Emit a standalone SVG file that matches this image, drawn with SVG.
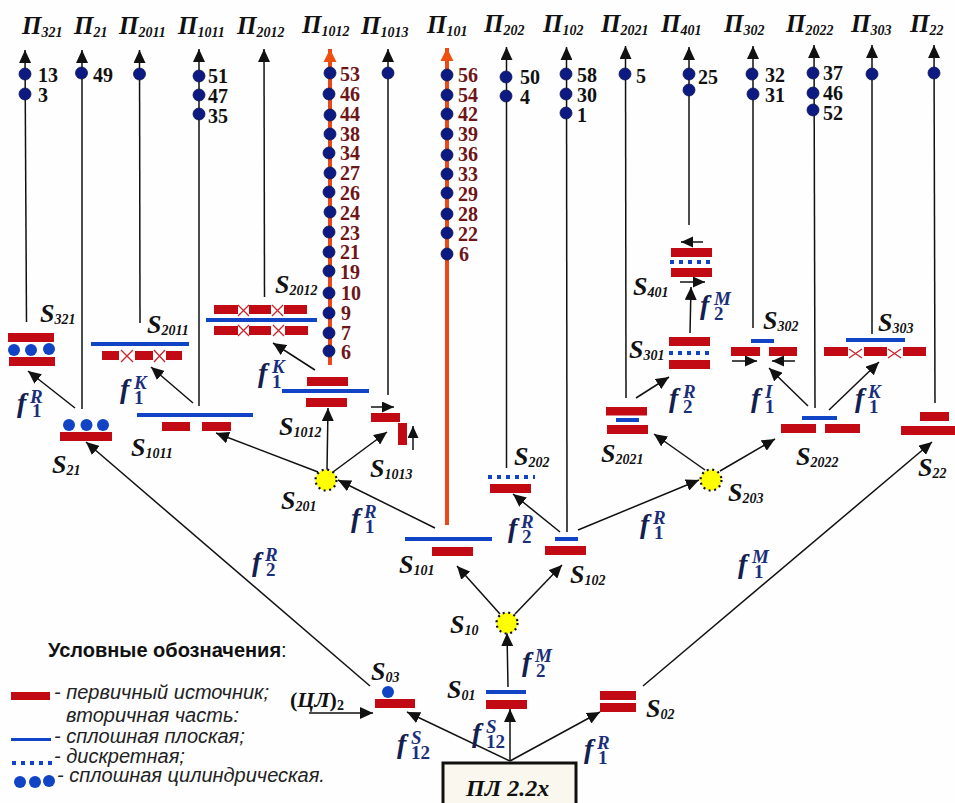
<svg xmlns="http://www.w3.org/2000/svg" width="955" height="803" viewBox="0 0 955 803">
<style>
text{font-family:"Liberation Serif","Times New Roman",serif}
.p{font-size:25px;font-weight:bold;font-style:italic;fill:#111}
.p tspan,.s tspan{font-size:14px}
.s{font-size:26px;font-weight:bold;font-style:italic;fill:#111}
.n{font-size:20px;font-weight:bold;fill:#111}
.m{font-size:20px;font-weight:bold;fill:#6e1518}
.f{font-size:28px;font-weight:bold;font-style:italic;fill:#13204f}
.f .a{font-size:19px;fill:#1a2f7c}
.f .b{font-size:19px;font-style:normal;fill:#1a2f7c}
.r{fill:#c20a14}
.b1{fill:#1144c4}
.c{fill:#1144c4}
.ds{stroke:#1144c4;stroke-width:4;stroke-dasharray:4 5;fill:none}
.x{stroke:#c8242c;stroke-width:1.3;fill:none}
.d{fill:#0c1a82;stroke:#10184e;stroke-width:.8}
.y{fill:#ffff00;stroke:#111;stroke-width:2.2;stroke-dasharray:2 3.6}
.l{stroke:#111;stroke-width:1.5;fill:none}
.ar{stroke:#111;stroke-width:1.5;fill:none;marker-end:url(#ah)}
.at{stroke:#111;stroke-width:1.5;fill:none;marker-end:url(#ah)}
.or{stroke:#e8481a;stroke-width:4;fill:none;marker-end:url(#oh)}
.lg{font-family:"Liberation Sans",Arial,sans-serif;font-size:20px;font-style:italic;fill:#222}
.lt{font-family:"Liberation Sans",Arial,sans-serif;font-size:20px;font-weight:bold;fill:#111}
</style>
<defs>
<marker id="ah" markerUnits="userSpaceOnUse" markerWidth="14" markerHeight="12" refX="13" refY="6" orient="auto"><path d="M0 0L13 6L0 12Z" fill="#111"/></marker>
<marker id="oh" markerUnits="userSpaceOnUse" markerWidth="14" markerHeight="14" refX="13" refY="7" orient="auto"><path d="M0 0.5L13 7L0 13.5Z" fill="#f0500f"/></marker>
<marker id="sh" markerUnits="userSpaceOnUse" markerWidth="13" markerHeight="12" refX="12" refY="5.5" orient="auto"><path d="M0 0L12 5.5L0 11Z" fill="#111"/></marker>
</defs>
<rect width="955" height="803" fill="#fefefe"/>

<g id="connectors">
<path class="at" d="M26.5 322L25 50"/>
<path class="at" d="M82 409L82 50"/>
<path class="at" d="M140 323L139.500 50"/>
<path class="at" d="M199 406L199 49"/>
<path class="at" d="M264.500 297L264 49"/>
<path class="or" d="M330 365L330 49"/>
<path class="at" d="M388 395L388 49"/>
<path class="or" d="M447 525L447 48"/>
<path class="at" d="M506.500 468L506.500 47"/>
<path class="at" d="M567 532L566.500 47"/>
<path class="at" d="M626 398L625.500 46"/>
<path class="at" d="M689 225L689 47"/>
<path class="at" d="M753 328L753 46"/>
<path class="at" d="M815 408L814 45"/>
<path class="at" d="M872 334L872 45"/>
<path class="at" d="M935 403L934 45"/>
<path class="ar" d="M510 761L407 712"/>
<path class="ar" d="M510 761L510 709"/>
<path class="ar" d="M510 761L600 712"/>
<path class="ar" d="M370 686L86 442"/>
<path class="ar" d="M309 713L373 713"/>
<path class="ar" d="M508 687L507 633"/>
<path class="ar" d="M500 614L457 566"/>
<path class="ar" d="M515 614L562 565"/>
<path class="ar" d="M435 528L338 480"/>
<path class="ar" d="M560 532L513 494"/>
<path class="ar" d="M578 530L699 480"/>
<path class="ar" d="M643 686L932 442"/>
<path class="ar" d="M705 470L654 434"/>
<path class="ar" d="M720 471L775 439"/>
<path class="ar" d="M636 398L669 377"/>
<path class="ar" d="M690 333L691 287"/>
<path class="ar" d="M808 406L769 368"/>
<path class="ar" d="M829 410L879 362"/>
<path class="ar" d="M318 472L216 433"/>
<path class="ar" d="M327 470L328 408"/>
<path class="ar" d="M333 472L387 432"/>
<path class="ar" d="M315 370L273 343"/>
<path class="ar" d="M193 403L151 367"/>
<path class="ar" d="M75 408L28 371"/>
</g>

<g id="outputs">
<g id="P321"><text class="p" x="22" y="34">П<tspan dy="3">321</tspan></text><circle class="d" cx="25" cy="74" r="6"/><circle class="d" cx="25" cy="94" r="6"/><text class="n" x="38" y="82">13</text><text class="n" x="38" y="102">3</text></g>
<g id="P21"><text class="p" x="74" y="34">П<tspan dy="3">21</tspan></text><circle class="d" cx="81.500" cy="73" r="6"/><text class="n" x="93" y="82">49</text></g>
<g id="P2011"><text class="p" x="119" y="34">П<tspan dy="3">2011</tspan></text><circle class="d" cx="139.500" cy="74" r="6"/></g>
<g id="P1011"><text class="p" x="178" y="34">П<tspan dy="3">1011</tspan></text><circle class="d" cx="199" cy="76" r="6"/><circle class="d" cx="199" cy="95" r="6"/><circle class="d" cx="199" cy="114" r="6"/><text class="n" x="208" y="83">51</text><text class="n" x="208" y="103">47</text><text class="n" x="208" y="123">35</text></g>
<g id="P2012"><text class="p" x="237" y="34">П<tspan dy="3">2012</tspan></text></g>
<g id="P1012"><text class="p" x="302" y="33">П<tspan dy="3">1012</tspan></text>
<circle class="d" cx="330" cy="73" r="6"/><circle class="d" cx="329" cy="94" r="6"/><circle class="d" cx="330" cy="115" r="6"/><circle class="d" cx="330" cy="134" r="6"/><circle class="d" cx="329" cy="153" r="6"/><circle class="d" cx="330" cy="173" r="6"/><circle class="d" cx="329" cy="192" r="6"/><circle class="d" cx="330" cy="212" r="6"/><circle class="d" cx="329" cy="232" r="6"/><circle class="d" cx="329" cy="252" r="6"/><circle class="d" cx="329" cy="271" r="6"/><circle class="d" cx="329" cy="293" r="6"/><circle class="d" cx="329" cy="313" r="6"/><circle class="d" cx="329" cy="333" r="6"/><circle class="d" cx="329" cy="351" r="6"/>
<text class="m" x="340" y="81">53</text><text class="m" x="340" y="101">46</text><text class="m" x="340" y="121">44</text><text class="m" x="340" y="141">38</text><text class="m" x="340" y="160">34</text><text class="m" x="340" y="180">27</text><text class="m" x="340" y="200">26</text><text class="m" x="340" y="220">24</text><text class="m" x="340" y="240">23</text><text class="m" x="340" y="259">21</text><text class="m" x="340" y="279">19</text><text class="m" x="341" y="300">10</text><text class="m" x="341" y="320">9</text><text class="m" x="341" y="340">7</text><text class="m" x="341" y="359">6</text></g>
<g id="P1013"><text class="p" x="361" y="34">П<tspan dy="3">1013</tspan></text><circle class="d" cx="388" cy="73" r="6"/></g>
<g id="P101"><text class="p" x="427" y="33">П<tspan dy="3">101</tspan></text>
<circle class="d" cx="447" cy="75" r="6"/><circle class="d" cx="447" cy="95" r="6"/><circle class="d" cx="447" cy="114" r="6"/><circle class="d" cx="447" cy="134" r="6"/><circle class="d" cx="447" cy="155" r="6"/><circle class="d" cx="447" cy="174" r="6"/><circle class="d" cx="447" cy="193" r="6"/><circle class="d" cx="447" cy="214" r="6"/><circle class="d" cx="447" cy="233" r="6"/><circle class="d" cx="447" cy="254" r="6"/>
<text class="m" x="458" y="82">56</text><text class="m" x="458" y="102">54</text><text class="m" x="458" y="121">42</text><text class="m" x="458" y="141">39</text><text class="m" x="458" y="161">36</text><text class="m" x="458" y="181">33</text><text class="m" x="458" y="201">29</text><text class="m" x="458" y="221">28</text><text class="m" x="458" y="241">22</text><text class="m" x="459" y="261">6</text></g>
<g id="P202"><text class="p" x="484" y="32">П<tspan dy="3">202</tspan></text><circle class="d" cx="506" cy="77" r="6"/><circle class="d" cx="506" cy="96" r="6"/><text class="n" x="520" y="84">50</text><text class="n" x="520" y="104">4</text></g>
<g id="P102"><text class="p" x="543" y="32">П<tspan dy="3">102</tspan></text><circle class="d" cx="566" cy="74" r="6"/><circle class="d" cx="566" cy="94" r="6"/><circle class="d" cx="566" cy="113" r="6"/><text class="n" x="577" y="82">58</text><text class="n" x="577" y="102">30</text><text class="n" x="577" y="122">1</text></g>
<g id="P2021"><text class="p" x="601" y="32">П<tspan dy="3">2021</tspan></text><circle class="d" cx="625" cy="74" r="6"/><text class="n" x="636" y="83">5</text></g>
<g id="P401"><text class="p" x="661" y="32">П<tspan dy="3">401</tspan></text><circle class="d" cx="689" cy="74" r="6"/><circle class="d" cx="689" cy="90" r="6"/><text class="n" x="698" y="84">25</text></g>
<g id="P302"><text class="p" x="724" y="32">П<tspan dy="3">302</tspan></text><circle class="d" cx="752" cy="74" r="6"/><circle class="d" cx="753" cy="94" r="6"/><text class="n" x="765" y="82">32</text><text class="n" x="765" y="102">31</text></g>
<g id="P2022"><text class="p" x="786" y="32">П<tspan dy="3">2022</tspan></text><circle class="d" cx="813" cy="73" r="6"/><circle class="d" cx="813" cy="93" r="6"/><circle class="d" cx="813" cy="110" r="6"/><text class="n" x="823" y="80">37</text><text class="n" x="823" y="100">46</text><text class="n" x="823" y="120">52</text></g>
<g id="P303"><text class="p" x="851" y="32">П<tspan dy="3">303</tspan></text><circle class="d" cx="872" cy="74" r="6"/></g>
<g id="P22"><text class="p" x="910" y="32">П<tspan dy="3">22</tspan></text><circle class="d" cx="934" cy="73" r="6"/></g>
</g>

<g id="S321"><rect class="r" x="8" y="333" width="46" height="9"/><circle class="c" cx="14" cy="350" r="6"/><circle class="c" cx="31" cy="350" r="6"/><circle class="c" cx="49" cy="349" r="6"/><rect class="r" x="9" y="357" width="46" height="9"/><text class="s" x="40" y="322">S<tspan dy="2">321</tspan></text></g>
<g id="S21"><circle class="c" cx="69" cy="425" r="6"/><circle class="c" cx="86.500" cy="425" r="6"/><circle class="c" cx="103" cy="425" r="6"/><rect class="r" x="60" y="432" width="52" height="9"/><text class="s" x="52" y="473">S<tspan dy="2">21</tspan></text></g>
<g id="S2011"><rect class="b1" x="91" y="342" width="98" height="4"/><rect class="r" x="102" y="351" width="17" height="9"/><rect class="r" x="135" y="351" width="18" height="9"/><rect class="r" x="166" y="351" width="16" height="9"/><path class="x" d="M121 350L133 362M121 362L133 350M154 350L165 362M154 362L165 350"/><text class="s" x="147" y="333">S<tspan dy="2">2011</tspan></text></g>
<g id="S1011"><rect class="b1" x="137" y="413" width="116" height="4"/><rect class="r" x="162" y="422" width="28" height="9"/><rect class="r" x="202" y="422" width="29" height="9"/><text class="s" x="131" y="456">S<tspan dy="2">1011</tspan></text></g>
<g id="S2012"><rect class="r" x="214" y="305" width="24" height="9"/><rect class="r" x="249" y="305" width="22" height="9"/><rect class="r" x="284" y="305" width="23" height="9"/><rect class="b1" x="206" y="318" width="111" height="4"/><rect class="r" x="214" y="326" width="24" height="9"/><rect class="r" x="249" y="326" width="22" height="9"/><rect class="r" x="285" y="326" width="23" height="9"/><path class="x" d="M238 305L249 316M238 316L249 305M272 305L283 316M272 316L283 305M238 325L249 336M238 336L249 325M273 325L284 336M273 336L284 325"/><text class="s" x="275" y="293">S<tspan dy="2">2012</tspan></text></g>
<g id="S1012"><rect class="r" x="307" y="377" width="41" height="9"/><rect class="b1" x="282" y="389" width="87" height="4"/><rect class="r" x="306" y="398" width="41" height="9"/><text class="s" x="279" y="435">S<tspan dy="2">1012</tspan></text></g>
<g id="S1013"><rect class="r" x="371" y="413" width="29" height="9"/><rect class="r" x="398" y="423" width="9" height="22"/><path class="l" style="marker-end:url(#sh)" d="M371 407L394 407"/><path class="l" style="marker-end:url(#sh)" d="M413 450L413 426"/><text class="s" x="370" y="477">S<tspan dy="2">1013</tspan></text></g>
<g id="S201"><circle class="y" cx="326" cy="480" r="10.500"/><text class="s" x="281" y="509">S<tspan dy="2">201</tspan></text></g>
<g id="S202"><path class="ds" d="M488 477L535 477"/><rect class="r" x="490" y="484" width="41" height="9"/><text class="s" x="514" y="465">S<tspan dy="2">202</tspan></text></g>
<g id="S101"><rect class="b1" x="405" y="537" width="87" height="4"/><rect class="r" x="432" y="547" width="41" height="9"/><text class="s" x="399" y="573">S<tspan dy="2">101</tspan></text></g>
<g id="S102"><rect class="b1" x="555" y="537" width="23" height="4"/><rect class="r" x="545" y="546" width="41" height="9"/><text class="s" x="570" y="583">S<tspan dy="2">102</tspan></text></g>
<g id="S10"><circle class="y" cx="507" cy="623" r="10.500"/><text class="s" x="450" y="633">S<tspan dy="2">10</tspan></text></g>
<g id="S01"><rect class="b1" x="486" y="690" width="40" height="4"/><rect class="r" x="486" y="700" width="41" height="9"/><text class="s" x="447" y="698">S<tspan dy="2">01</tspan></text></g>
<g id="S03"><circle class="c" cx="388" cy="692" r="6"/><rect class="r" x="375" y="699" width="40" height="9"/><text class="s" x="371" y="680">S<tspan dy="2">03</tspan></text></g>
<g id="S02"><rect class="r" x="600" y="691" width="36" height="9"/><rect class="r" x="600" y="703" width="36" height="9"/><text class="s" x="646" y="717">S<tspan dy="2">02</tspan></text></g>
<g id="S2021"><rect class="r" x="606" y="407" width="41" height="8.500"/><rect class="b1" x="616" y="418" width="23" height="4"/><rect class="r" x="607" y="425" width="41" height="9"/><text class="s" x="601" y="462">S<tspan dy="2">2021</tspan></text></g>
<g id="S301"><rect class="r" x="669" y="337" width="41" height="9"/><path class="ds" d="M669 353L710 353"/><rect class="r" x="669" y="360" width="41" height="9"/><text class="s" x="629" y="358">S<tspan dy="2">301</tspan></text></g>
<g id="S401"><path class="l" style="marker-end:url(#sh)" d="M703 242L681 242"/><rect class="r" x="671" y="248" width="41" height="9"/><path class="ds" d="M670 262L712 262"/><rect class="r" x="671" y="268" width="41" height="9"/><path class="l" style="marker-end:url(#sh)" d="M680 282L705 282"/><text class="s" x="633" y="295">S<tspan dy="2">401</tspan></text></g>
<g id="S302"><rect class="b1" x="751" y="339" width="23" height="4"/><rect class="r" x="731" y="347" width="29" height="9"/><rect class="r" x="769" y="347" width="28" height="9"/><path class="l" style="marker-end:url(#sh)" d="M732 361L757 361"/><path class="l" style="marker-end:url(#sh)" d="M795 361L772 361"/><text class="s" x="763" y="329">S<tspan dy="2">302</tspan></text></g>
<g id="S303"><rect class="b1" x="846" y="338" width="59" height="4"/><rect class="r" x="824" y="347" width="24" height="9"/><rect class="r" x="864" y="347" width="23" height="9"/><rect class="r" x="903" y="347" width="23" height="9"/><path class="x" d="M849 349L862 358M849 358L862 349M888 349L901 358M888 358L901 349"/><text class="s" x="878" y="331">S<tspan dy="2">303</tspan></text></g>
<g id="S2022"><rect class="b1" x="802" y="416" width="35" height="4"/><rect class="r" x="781" y="424" width="35" height="9"/><rect class="r" x="825" y="424" width="35" height="9"/><text class="s" x="796" y="465">S<tspan dy="2">2022</tspan></text></g>
<g id="S22"><rect class="r" x="920" y="412" width="29" height="9"/><rect class="r" x="901" y="426" width="54" height="9"/><text class="s" x="918" y="476">S<tspan dy="2">22</tspan></text></g>
<g id="S203"><circle class="y" cx="711" cy="480" r="10.500"/><text class="s" x="728" y="501">S<tspan dy="2">203</tspan></text></g>

<g id="PL"><rect x="443" y="763" width="133" height="50" fill="#faf7ef" stroke="#111" stroke-width="3"/><text x="466" y="796" style="font-size:24px;font-weight:bold;font-style:italic;fill:#111">ПЛ 2.2x</text></g>

<g id="function-labels">
<text class="f" x="17" y="412">f<tspan class="a" x="30" y="403">R</tspan><tspan class="b" x="32" y="417">1</tspan></text>
<text class="f" x="120" y="398">f<tspan class="a" x="134" y="389">K</tspan><tspan class="b" x="134" y="404">1</tspan></text>
<text class="f" x="258" y="382">f<tspan class="a" x="272" y="373">K</tspan><tspan class="b" x="272" y="388">1</tspan></text>
<text class="f" x="351" y="527">f<tspan class="a" x="364" y="518">R</tspan><tspan class="b" x="365" y="533">1</tspan></text>
<text class="f" x="252" y="571">f<tspan class="a" x="265" y="561">R</tspan><tspan class="b" x="266" y="576">2</tspan></text>
<text class="f" x="508" y="537">f<tspan class="a" x="521" y="528">R</tspan><tspan class="b" x="522" y="543">2</tspan></text>
<text class="f" x="640" y="533">f<tspan class="a" x="653" y="524">R</tspan><tspan class="b" x="654" y="539">1</tspan></text>
<text class="f" x="738" y="573">f<tspan class="a" x="752" y="563">M</tspan><tspan class="b" x="754" y="578">1</tspan></text>
<text class="f" x="522" y="671">f<tspan class="a" x="535" y="662">M</tspan><tspan class="b" x="536" y="677">2</tspan></text>
<text class="f" x="397" y="753">f<tspan class="a" x="411" y="744">S</tspan><tspan class="b" x="411" y="759">12</tspan></text>
<text class="f" x="472" y="742">f<tspan class="a" x="486" y="733">S</tspan><tspan class="b" x="486" y="748">12</tspan></text>
<text class="f" x="584" y="758">f<tspan class="a" x="597" y="749">R</tspan><tspan class="b" x="598" y="764">1</tspan></text>
<text class="f" x="669" y="407">f<tspan class="a" x="683" y="398">R</tspan><tspan class="b" x="683" y="413">2</tspan></text>
<text class="f" x="751" y="407">f<tspan class="a" x="765" y="398">I</tspan><tspan class="b" x="765" y="413">1</tspan></text>
<text class="f" x="855" y="407">f<tspan class="a" x="868" y="398">K</tspan><tspan class="b" x="869" y="413">1</tspan></text>
<text class="f" x="700" y="314">f<tspan class="a" x="714" y="305">M</tspan><tspan class="b" x="714" y="320">2</tspan></text>
</g>

<g id="legend">
<text class="lt" x="48" y="657">Условные обозначения<tspan font-weight="normal">:</tspan></text>
<rect class="r" x="11" y="692" width="39" height="8"/>
<text class="lg" x="54" y="699">- первичный источник;</text>
<text class="lg" x="66" y="722">вторичная часть:</text>
<rect class="b1" x="11" y="738" width="40" height="3"/>
<text class="lg" x="54" y="743">- сплошная плоская;</text>
<path class="ds" d="M12 763L53 763"/>
<text class="lg" x="54" y="763">- дискретная;</text>
<circle class="c" cx="20" cy="782" r="6"/><circle class="c" cx="35" cy="782" r="6"/><circle class="c" cx="49" cy="781" r="6"/>
<text class="lg" x="57" y="782">- сплошная цилиндрическая.</text>
<text x="290" y="707" style="font-size:22px;font-weight:bold;fill:#111">(<tspan font-style="italic">ЦЛ</tspan>)<tspan font-size="14" dy="3">2</tspan></text>
</g>
</svg>
